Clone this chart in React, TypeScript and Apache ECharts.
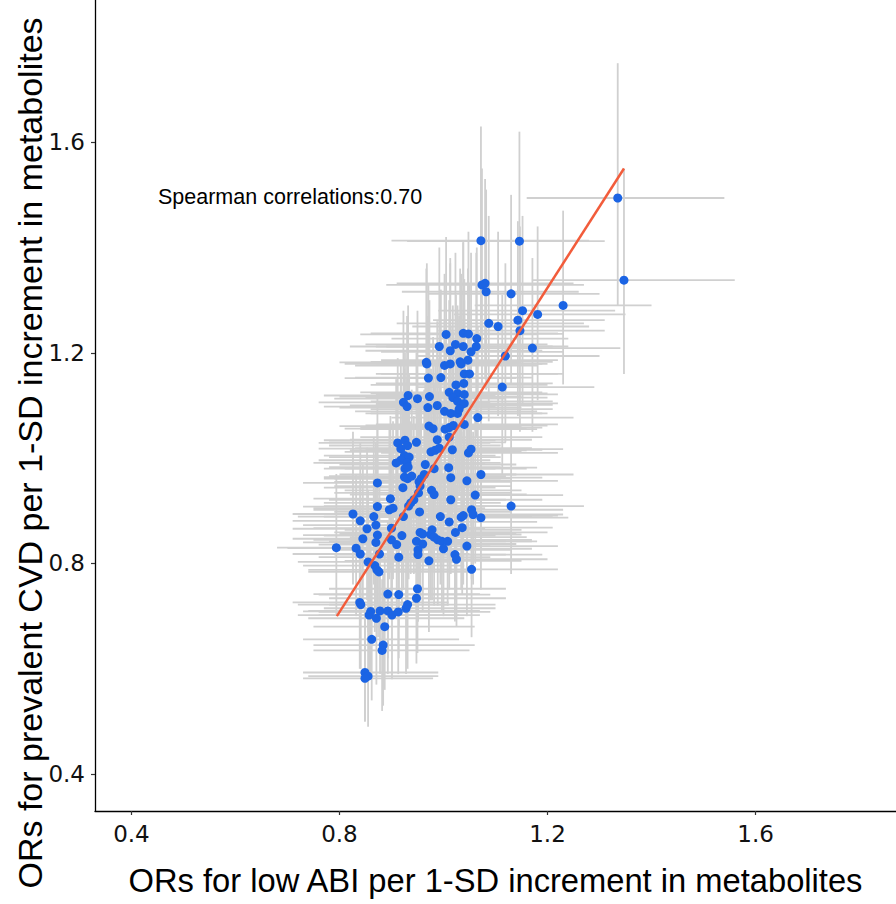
import React, { useEffect, useRef } from "react";
import * as echarts from "echarts";

// ORs for low ABI (x) and prevalent CVD (y) per metabolite, with 95% CIs
const orAbi = [
  1.072, 1.146, 1.074, 1.080, 1.082, 1.130, 1.230, 1.152, 1.181, 1.143,
  1.087, 1.105, 1.147, 1.005, 1.038, 1.048, 1.064, 0.992, 1.023, 1.038,
  1.063, 1.013, 1.053, 1.171, 1.119, 0.967, 0.968, 1.002, 1.013, 1.032,
  1.034, 1.047, 0.971, 0.995, 1.040, 1.050, 1.024, 1.039, 1.113, 1.011,
  1.027, 1.040, 0.932, 0.973, 0.950, 0.923, 0.930, 0.970, 0.988, 1.018,
  1.027, 1.034, 1.040, 1.002, 1.014, 1.027, 1.066, 1.335, 1.347, 1.030,
  1.040, 0.972, 0.980, 1.003, 1.011, 1.019, 0.948, 0.988, 1.011, 0.912,
  0.926, 0.931, 0.918, 0.976, 0.984, 0.992, 1.017, 1.053, 1.048, 0.925,
  0.934, 0.918, 0.930, 0.909, 0.926, 0.932, 0.965, 0.982, 1.010, 1.072,
  0.925, 0.931, 0.939, 0.953, 0.957, 0.963, 1.014, 1.045, 0.873, 0.922,
  0.952, 0.955, 0.977, 0.982, 1.061, 0.898, 0.943, 0.937, 0.933, 1.014,
  0.873, 0.896, 0.903, 0.954, 1.054, 1.057, 1.130, 0.826, 0.866, 0.923,
  0.994, 1.034, 1.038, 1.072, 0.840, 0.870, 1.011, 0.853, 0.900, 1.036,
  0.978, 0.975, 0.982, 0.989, 0.955, 0.960, 1.023, 0.873, 0.920, 0.845,
  0.900, 0.948, 0.960, 0.997, 1.008, 0.870, 0.910, 1.045, 0.794, 0.832,
  1.000, 0.951, 0.951, 0.877, 0.840, 0.914, 1.022, 1.025, 0.972, 0.855,
  0.868, 0.872, 0.876, 1.054, 0.950, 0.948, 0.893, 0.914, 0.839, 0.841,
  0.860, 0.857, 0.878, 0.871, 0.893, 0.901, 0.913, 0.928, 0.931, 0.887,
  0.862, 0.884, 0.882, 0.849, 0.855, 0.849,
];

const orCvd = [
  1.413, 1.412, 1.329, 1.332, 1.316, 1.312, 1.290, 1.280, 1.273, 1.262,
  1.256, 1.250, 1.242, 1.235, 1.237, 1.236, 1.227, 1.212, 1.216, 1.212,
  1.212, 1.204, 1.202, 1.209, 1.194, 1.182, 1.179, 1.176, 1.179, 1.183,
  1.179, 1.186, 1.152, 1.153, 1.160, 1.160, 1.139, 1.142, 1.135, 1.125,
  1.123, 1.121, 1.119, 1.117, 1.113, 1.106, 1.098, 1.096, 1.100, 1.115,
  1.108, 1.101, 1.104, 1.089, 1.085, 1.085, 1.077, 1.494, 1.338, 1.093,
  1.064, 1.061, 1.056, 1.055, 1.058, 1.062, 1.030, 1.035, 1.040, 1.029,
  1.034, 1.024, 1.018, 1.012, 1.015, 1.019, 1.016, 1.017, 1.010, 1.005,
  1.002, 0.996, 0.991, 0.991, 0.980, 0.983, 0.988, 0.980, 0.982, 0.969,
  0.964, 0.961, 0.966, 0.955, 0.961, 0.969, 0.963, 0.957, 0.953, 0.944,
  0.934, 0.947, 0.939, 0.931, 0.930, 0.923, 0.921, 0.915, 0.909, 0.921,
  0.908, 0.902, 0.905, 0.898, 0.902, 0.893, 0.909, 0.894, 0.889, 0.889,
  0.889, 0.888, 0.891, 0.887, 0.881, 0.873, 0.879, 0.866, 0.867, 0.868,
  0.864, 0.855, 0.850, 0.845, 0.859, 0.856, 0.859, 0.854, 0.853, 0.847,
  0.845, 0.842, 0.837, 0.842, 0.842, 0.840, 0.836, 0.833, 0.830, 0.829,
  0.828, 0.826, 0.817, 0.818, 0.818, 0.812, 0.817, 0.808, 0.805, 0.803,
  0.796, 0.788, 0.784, 0.789, 0.752, 0.734, 0.742, 0.741, 0.726, 0.722,
  0.709, 0.702, 0.710, 0.696, 0.710, 0.702, 0.708, 0.715, 0.722, 0.680,
  0.656, 0.645, 0.635, 0.593, 0.586, 0.582,
];

const abiLow = [
  0.90, 0.93, 0.89, 0.91, 0.92, 0.97, 1.06, 0.99, 1.02, 0.98,
  0.91, 0.94, 0.99, 0.84, 0.86, 0.88, 0.90, 0.82, 0.85, 0.87,
  0.89, 0.85, 0.88, 1.01, 0.95, 0.80, 0.81, 0.83, 0.84, 0.86,
  0.87, 0.88, 0.81, 0.83, 0.87, 0.88, 0.86, 0.87, 0.95, 0.84,
  0.86, 0.87, 0.77, 0.80, 0.79, 0.76, 0.77, 0.80, 0.82, 0.85,
  0.86, 0.87, 0.87, 0.83, 0.85, 0.86, 0.90, 1.16, 1.17, 0.86,
  0.87, 0.80, 0.81, 0.84, 0.84, 0.85, 0.78, 0.82, 0.84, 0.76,
  0.77, 0.78, 0.76, 0.81, 0.82, 0.83, 0.85, 0.89, 0.88, 0.77,
  0.78, 0.76, 0.77, 0.75, 0.77, 0.78, 0.80, 0.81, 0.84, 0.91,
  0.77, 0.77, 0.78, 0.79, 0.79, 0.80, 0.85, 0.88, 0.73, 0.77,
  0.79, 0.79, 0.81, 0.82, 0.90, 0.75, 0.78, 0.77, 0.77, 0.85,
  0.73, 0.75, 0.75, 0.79, 0.89, 0.89, 0.97, 0.71, 0.72, 0.77,
  0.83, 0.87, 0.87, 0.91, 0.71, 0.73, 0.85, 0.71, 0.75, 0.87,
  0.81, 0.81, 0.82, 0.82, 0.79, 0.80, 0.86, 0.73, 0.77, 0.71,
  0.75, 0.78, 0.80, 0.83, 0.84, 0.73, 0.76, 0.88, 0.68, 0.70,
  0.84, 0.79, 0.79, 0.74, 0.71, 0.76, 0.86, 0.86, 0.81, 0.72,
  0.73, 0.74, 0.74, 0.89, 0.78, 0.78, 0.75, 0.76, 0.71, 0.72,
  0.73, 0.72, 0.74, 0.74, 0.75, 0.76, 0.76, 0.77, 0.78, 0.75,
  0.73, 0.75, 0.75, 0.73, 0.74, 0.73,
];

const abiHigh = [
  1.28, 1.31, 1.27, 1.25, 1.26, 1.30, 1.40, 1.33, 1.35, 1.31,
  1.27, 1.28, 1.31, 1.18, 1.22, 1.23, 1.24, 1.17, 1.20, 1.21,
  1.24, 1.19, 1.23, 1.34, 1.30, 1.15, 1.14, 1.18, 1.19, 1.21,
  1.20, 1.22, 1.14, 1.17, 1.22, 1.23, 1.20, 1.21, 1.29, 1.19,
  1.20, 1.22, 1.10, 1.15, 1.12, 1.09, 1.10, 1.15, 1.17, 1.20,
  1.21, 1.21, 1.22, 1.18, 1.19, 1.20, 1.25, 1.54, 1.56, 1.21,
  1.22, 1.15, 1.16, 1.18, 1.19, 1.20, 1.12, 1.17, 1.19, 1.09,
  1.10, 1.11, 1.09, 1.15, 1.16, 1.17, 1.19, 1.23, 1.22, 1.10,
  1.11, 1.09, 1.11, 1.08, 1.10, 1.11, 1.14, 1.16, 1.18, 1.25,
  1.10, 1.11, 1.12, 1.13, 1.13, 1.14, 1.19, 1.22, 1.04, 1.10,
  1.13, 1.13, 1.15, 1.16, 1.23, 1.07, 1.12, 1.11, 1.11, 1.19,
  1.05, 1.07, 1.08, 1.13, 1.23, 1.23, 1.27, 1.00, 1.04, 1.10,
  1.17, 1.21, 1.22, 1.24, 1.01, 1.05, 1.18, 1.03, 1.08, 1.21,
  1.15, 1.15, 1.16, 1.17, 1.13, 1.14, 1.20, 1.05, 1.10, 1.02,
  1.08, 1.12, 1.14, 1.17, 1.18, 1.04, 1.09, 1.22, 0.97, 1.01,
  1.17, 1.13, 1.12, 1.05, 1.01, 1.09, 1.19, 1.20, 1.15, 1.03,
  1.04, 1.05, 1.05, 1.22, 1.12, 1.12, 1.07, 1.09, 1.01, 1.01,
  1.03, 1.03, 1.05, 1.04, 1.07, 1.07, 1.09, 1.10, 1.10, 1.06,
  1.03, 1.06, 1.05, 0.99, 0.99, 0.98,
];

const cvdLow = [
  1.22, 1.21, 1.14, 1.15, 1.13, 1.14, 1.14, 1.10, 1.11, 1.08,
  1.07, 1.08, 1.05, 1.06, 1.07, 1.05, 1.06, 1.04, 1.05, 1.03,
  1.04, 1.03, 1.02, 1.05, 1.03, 1.02, 1.01, 1.01, 1.00, 1.02,
  1.01, 1.02, 0.99, 0.99, 0.99, 1.00, 0.98, 0.97, 0.97, 0.96,
  0.97, 0.96, 0.96, 0.95, 0.96, 0.95, 0.94, 0.94, 0.95, 0.96,
  0.95, 0.94, 0.95, 0.93, 0.93, 0.92, 0.92, 1.29, 1.16, 0.93,
  0.91, 0.91, 0.90, 0.90, 0.91, 0.91, 0.88, 0.89, 0.89, 0.88,
  0.89, 0.87, 0.87, 0.87, 0.86, 0.87, 0.87, 0.87, 0.86, 0.86,
  0.85, 0.85, 0.84, 0.85, 0.84, 0.84, 0.85, 0.83, 0.84, 0.83,
  0.82, 0.83, 0.82, 0.82, 0.82, 0.83, 0.82, 0.82, 0.81, 0.81,
  0.80, 0.81, 0.80, 0.79, 0.80, 0.79, 0.78, 0.78, 0.77, 0.78,
  0.78, 0.77, 0.77, 0.76, 0.77, 0.76, 0.78, 0.76, 0.76, 0.75,
  0.76, 0.75, 0.76, 0.75, 0.75, 0.74, 0.75, 0.73, 0.74, 0.74,
  0.73, 0.73, 0.72, 0.72, 0.73, 0.72, 0.73, 0.72, 0.72, 0.72,
  0.71, 0.71, 0.71, 0.71, 0.72, 0.71, 0.70, 0.70, 0.70, 0.70,
  0.70, 0.69, 0.69, 0.69, 0.69, 0.68, 0.69, 0.68, 0.67, 0.67,
  0.67, 0.66, 0.66, 0.66, 0.63, 0.61, 0.62, 0.62, 0.60, 0.60,
  0.59, 0.58, 0.59, 0.57, 0.59, 0.58, 0.59, 0.59, 0.60, 0.56,
  0.54, 0.53, 0.52, 0.50, 0.49, 0.50,
];

const cvdHigh = [
  1.63, 1.62, 1.55, 1.53, 1.51, 1.50, 1.47, 1.46, 1.44, 1.45,
  1.46, 1.43, 1.44, 1.42, 1.41, 1.43, 1.40, 1.40, 1.39, 1.41,
  1.39, 1.38, 1.39, 1.38, 1.37, 1.36, 1.37, 1.35, 1.37, 1.36,
  1.35, 1.36, 1.33, 1.32, 1.34, 1.33, 1.31, 1.32, 1.31, 1.30,
  1.29, 1.30, 1.29, 1.30, 1.28, 1.28, 1.27, 1.27, 1.26, 1.29,
  1.28, 1.28, 1.27, 1.26, 1.25, 1.26, 1.25, 1.75, 1.55, 1.27,
  1.24, 1.23, 1.23, 1.22, 1.23, 1.24, 1.20, 1.20, 1.21, 1.19,
  1.20, 1.19, 1.18, 1.17, 1.18, 1.19, 1.18, 1.18, 1.17, 1.17,
  1.16, 1.16, 1.15, 1.15, 1.14, 1.15, 1.14, 1.14, 1.15, 1.13,
  1.12, 1.12, 1.13, 1.11, 1.12, 1.13, 1.12, 1.11, 1.12, 1.10,
  1.09, 1.10, 1.10, 1.09, 1.08, 1.08, 1.08, 1.07, 1.07, 1.08,
  1.06, 1.06, 1.07, 1.06, 1.05, 1.05, 1.06, 1.05, 1.04, 1.05,
  1.04, 1.04, 1.05, 1.04, 1.03, 1.03, 1.03, 1.02, 1.02, 1.02,
  1.01, 1.00, 1.00, 0.99, 1.01, 1.00, 1.01, 1.00, 1.00, 0.99,
  0.99, 0.99, 0.98, 0.99, 0.98, 0.98, 0.98, 0.97, 0.97, 0.97,
  0.97, 0.97, 0.96, 0.96, 0.95, 0.95, 0.96, 0.95, 0.95, 0.94,
  0.94, 0.93, 0.92, 0.93, 0.89, 0.87, 0.88, 0.88, 0.86, 0.86,
  0.85, 0.84, 0.85, 0.84, 0.85, 0.84, 0.85, 0.86, 0.86, 0.82,
  0.79, 0.78, 0.77, 0.72, 0.71, 0.71,
];

// fitted line end points
const regLine = [
  [0.795, 0.7],
  [1.347, 1.55],
];

const xTicks = [0.4, 0.8, 1.2, 1.6];
const yTicks = [0.4, 0.8, 1.2, 1.6];
const axisRange = [0.33, 1.87];

const xTitle = "ORs for low ABI per 1-SD increment in metabolites";
const yTitle = "ORs for prevalent CVD per 1-SD increment in metabolites";
const note = "Spearman correlations:0.70";

export default function App() {
  const ref = useRef<HTMLDivElement>(null);

  useEffect(() => {
    if (!ref.current) return;
    const chart = echarts.init(ref.current, null, { renderer: "svg" });
    const font = "'Liberation Sans', Arial, Helvetica, sans-serif";
    const tickFont = "'DejaVu Sans', Verdana, sans-serif";

    const bars = orAbi.map((x, i) => [x, orCvd[i], abiLow[i], abiHigh[i], cvdLow[i], cvdHigh[i]]);
    const points = orAbi.map((x, i) => [x, orCvd[i]]);

    const barStyle = { stroke: "#d0d0d0", lineWidth: 1.8 };

    chart.setOption({
      animation: false,
      backgroundColor: "#ffffff",
      grid: { left: 95, right: 0, top: 0, bottom: 93, containLabel: false },
      xAxis: {
        type: "value",
        min: axisRange[0],
        max: axisRange[1],
        name: xTitle,
        nameLocation: "middle",
        nameGap: 53,
        nameTextStyle: { fontSize: 32.7, color: "#000", fontFamily: font },
        axisLine: { show: true, onZero: false, lineStyle: { color: "#000", width: 1.3 } },
        axisTick: { show: true, length: 4, lineStyle: { color: "#333", width: 1.2 }, customValues: xTicks },
        axisLabel: {
          customValues: xTicks,
          formatter: (v: number) => v.toFixed(1),
          fontSize: 23,
          color: "#111",
          margin: 11,
          fontFamily: tickFont,
        },
        splitLine: { show: false },
      },
      yAxis: {
        type: "value",
        min: axisRange[0],
        max: axisRange[1],
        axisLine: { show: true, onZero: false, lineStyle: { color: "#000", width: 1.3 } },
        axisTick: { show: true, length: 4, lineStyle: { color: "#333", width: 1.2 }, customValues: yTicks },
        axisLabel: {
          customValues: yTicks,
          formatter: (v: number) => v.toFixed(1),
          fontSize: 23,
          color: "#111",
          margin: 10,
          fontFamily: tickFont,
        },
        splitLine: { show: false },
      },
      graphic: [
        {
          type: "text",
          x: 30,
          y: 453,
          rotation: Math.PI / 2,
          style: {
            text: yTitle,
            fontSize: 34,
            fontFamily: font,
            fill: "#000",
            align: "center",
            verticalAlign: "middle",
          },
        },
        {
          type: "text",
          x: 158,
          y: 197,
          style: {
            text: note,
            fontSize: 21.5,
            fontFamily: font,
            fill: "#000",
            align: "left",
            verticalAlign: "middle",
          },
        },
      ],
      series: [
        {
          type: "custom",
          z: 1,
          data: bars,
          encode: { x: [0, 2, 3], y: [1, 4, 5] },
          renderItem: (_params: any, api: any) => {
            const x = api.value(0);
            const y = api.value(1);
            const xl = api.coord([api.value(2), y]);
            const xh = api.coord([api.value(3), y]);
            const yl = api.coord([x, api.value(4)]);
            const yh = api.coord([x, api.value(5)]);
            return {
              type: "group",
              children: [
                { type: "line", shape: { x1: xl[0], y1: xl[1], x2: xh[0], y2: xh[1] }, style: barStyle },
                { type: "line", shape: { x1: yl[0], y1: yl[1], x2: yh[0], y2: yh[1] }, style: barStyle },
              ],
            };
          },
        },
        {
          type: "scatter",
          z: 2,
          data: points,
          symbol: "circle",
          symbolSize: 9,
          itemStyle: { color: "#1b64e4", opacity: 1 },
        },
        {
          type: "line",
          z: 3,
          data: regLine,
          showSymbol: false,
          symbol: "none",
          lineStyle: { color: "#f25c3b", width: 2.5 },
        },
      ],
    });

    return () => chart.dispose();
  }, []);

  return (
    <div
      ref={ref}
      style={{ position: "absolute", left: 0, top: 0, width: 896, height: 904, background: "#fff" }}
    />
  );
}
